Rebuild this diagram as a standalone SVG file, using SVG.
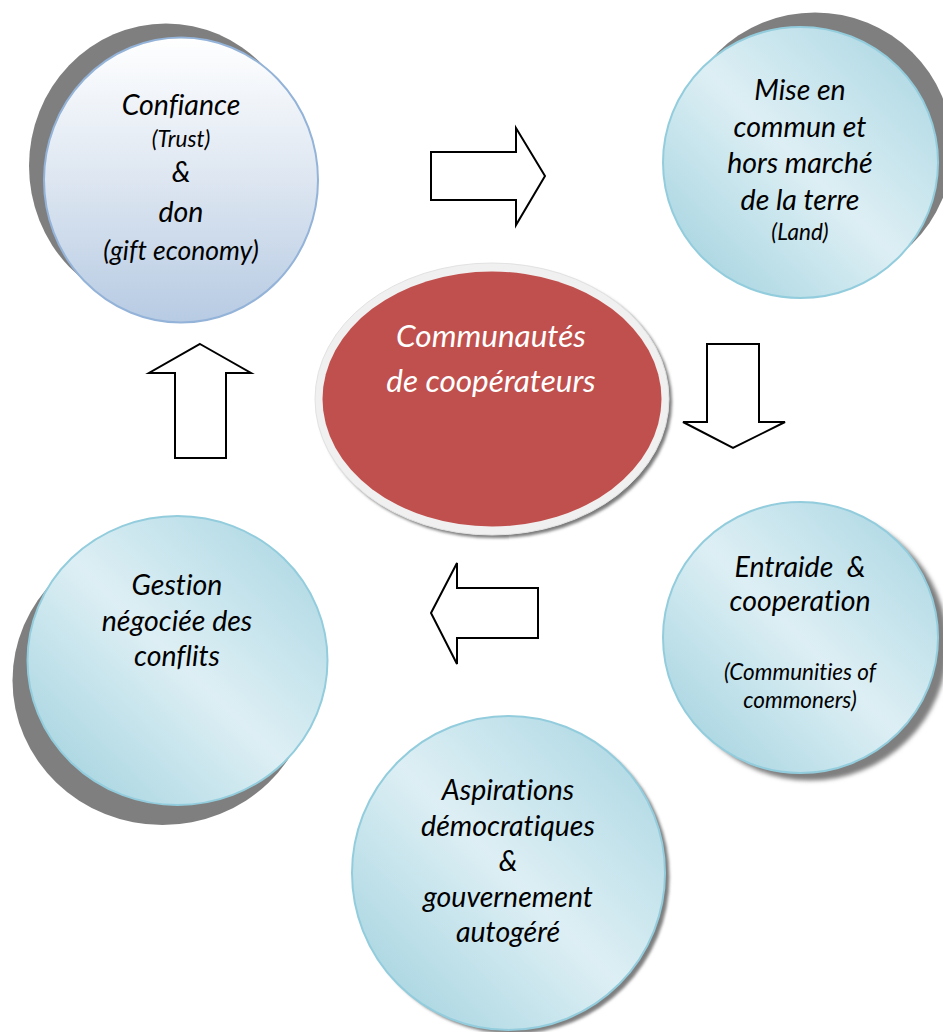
<svg xmlns="http://www.w3.org/2000/svg" width="943" height="1032" viewBox="0 0 943 1032">
  <style>
    .lbl { font-family: Lato, "Open Sans", "Liberation Sans", sans-serif; font-style: italic; fill: #000; text-anchor: middle; font-variant-ligatures: no-common-ligatures; }
    .big { font-size: 28.5px; }
    .small { font-size: 22.5px; }
    .tiny { font-size: 22.5px; }
    .ctr { font-family: Lato, "Open Sans", "Liberation Sans", sans-serif; font-style: italic; fill: #fff; text-anchor: middle; font-size: 31.5px; }
    .shadow { fill: #7f7f7f; }
    .aqua { fill: url(#aquaGrad); stroke: #93cddd; stroke-width: 2; }
    .arrow { fill: #fff; stroke: #000; stroke-width: 2; stroke-linejoin: miter; }
  </style>
  <defs>
    <linearGradient id="blueGrad" x1="0" y1="0" x2="0" y2="1">
      <stop offset="0" stop-color="#ffffff"/>
      <stop offset="0.5" stop-color="#dde6f1"/>
      <stop offset="1" stop-color="#b7cbe3"/>
    </linearGradient>
    <linearGradient id="aquaGrad" x1="0" y1="1" x2="1" y2="0">
      <stop offset="0" stop-color="#9ccfdd"/>
      <stop offset="0.5" stop-color="#ddeff4"/>
      <stop offset="1" stop-color="#a6d4e1"/>
    </linearGradient>
    <filter id="soft" x="-10%" y="-10%" width="120%" height="120%">
      <feGaussianBlur stdDeviation="2"/>
    </filter>
    <filter id="softer" x="-10%" y="-10%" width="120%" height="120%">
      <feGaussianBlur stdDeviation="1.5"/>
    </filter>
  </defs>
  <rect width="943" height="1032" fill="#fff"/>

  <!-- Block arrows linking the circles clockwise -->
  <g id="connectors">
    <path class="arrow" d="M431,152 L516,152 L516,128 L545,176 L516,225 L516,200 L431,200 Z"/>
    <path class="arrow" d="M707,344 L759,344 L759,422 L785,422 L733,448 L683,422 L707,422 Z"/>
    <path class="arrow" d="M431,613 L457,563 L457,588 L538,588 L538,638 L457,638 L457,664 Z"/>
    <path class="arrow" d="M200,344 L251,373 L226,373 L226,458 L175,458 L175,373 L149,373 Z"/>
  </g>

  <!-- Trust and gift economy -->
  <g id="confiance">
    <ellipse class="shadow" cx="166" cy="166" rx="137" ry="142.5"/>
    <ellipse cx="181" cy="180" rx="137" ry="142.5" fill="url(#blueGrad)" stroke="#94b3d8" stroke-width="2"/>
    <text class="lbl big" x="181" y="115">Confiance</text>
    <text class="lbl tiny" x="181" y="147">(Trust)</text>
    <text class="lbl big" x="181" y="182">&amp;</text>
    <text class="lbl big" x="181" y="222">don</text>
    <text class="lbl big" x="181" y="260" style="font-size:26.5px">(gift economy)</text>
  </g>

  <!-- Land held in common -->
  <g id="terre">
    <ellipse class="shadow" cx="815" cy="148" rx="137.5" ry="135.5"/>
    <ellipse class="aqua" cx="800.5" cy="162.5" rx="137.5" ry="135.5"/>
    <text class="lbl big" x="800" y="100">Mise en</text>
    <text class="lbl big" x="800" y="137">commun et</text>
    <text class="lbl big" x="800" y="173">hors marché</text>
    <text class="lbl big" x="800" y="210">de la terre</text>
    <text class="lbl tiny" x="800" y="240">(Land)</text>
  </g>

  <!-- Mutual aid -->
  <g id="entraide">
    <ellipse class="shadow" cx="810" cy="645" rx="137.5" ry="135.5" filter="url(#soft)"/>
    <ellipse class="aqua" cx="800.5" cy="637.5" rx="137.5" ry="135.5"/>
    <text class="lbl big" x="800" y="577" xml:space="preserve">Entraide  &amp;</text>
    <text class="lbl big" x="800" y="611">cooperation</text>
    <text class="lbl small" x="800" y="680">(Communities of</text>
    <text class="lbl small" x="800" y="708">commoners)</text>
  </g>

  <!-- Democratic self-government -->
  <g id="democratie">
    <ellipse class="shadow" cx="513" cy="877" rx="156.5" ry="157" filter="url(#softer)"/>
    <ellipse class="aqua" cx="508.5" cy="873" rx="156.5" ry="157"/>
    <text class="lbl big" x="508" y="800">Aspirations</text>
    <text class="lbl big" x="508" y="836">démocratiques</text>
    <text class="lbl big" x="508" y="871">&amp;</text>
    <text class="lbl big" x="508" y="907">gouvernement</text>
    <text class="lbl big" x="508" y="942">autogéré</text>
  </g>

  <!-- Negotiated conflict handling -->
  <g id="conflits">
    <ellipse class="shadow" cx="162.5" cy="680.5" rx="150" ry="144.5"/>
    <ellipse class="aqua" cx="177.5" cy="660.5" rx="150" ry="144.5"/>
    <text class="lbl big" x="177" y="595">Gestion</text>
    <text class="lbl big" x="177" y="631">négociée des</text>
    <text class="lbl big" x="177" y="666">conflits</text>
  </g>

  <!-- Central community node -->
  <g id="communautes">
    <ellipse cx="495" cy="402" rx="177" ry="136" fill="#7a7a7a" filter="url(#softer)"/>
    <ellipse cx="492" cy="399" rx="177" ry="136" fill="#f0f0f0" stroke="#e2e2e2" stroke-width="1"/>
    <ellipse cx="492" cy="399" rx="169.5" ry="127.5" fill="#c0504d"/>
    <text class="ctr" x="491" y="347">Communautés</text>
    <text class="ctr" x="491" y="392">de coopérateurs</text>
  </g>
</svg>
